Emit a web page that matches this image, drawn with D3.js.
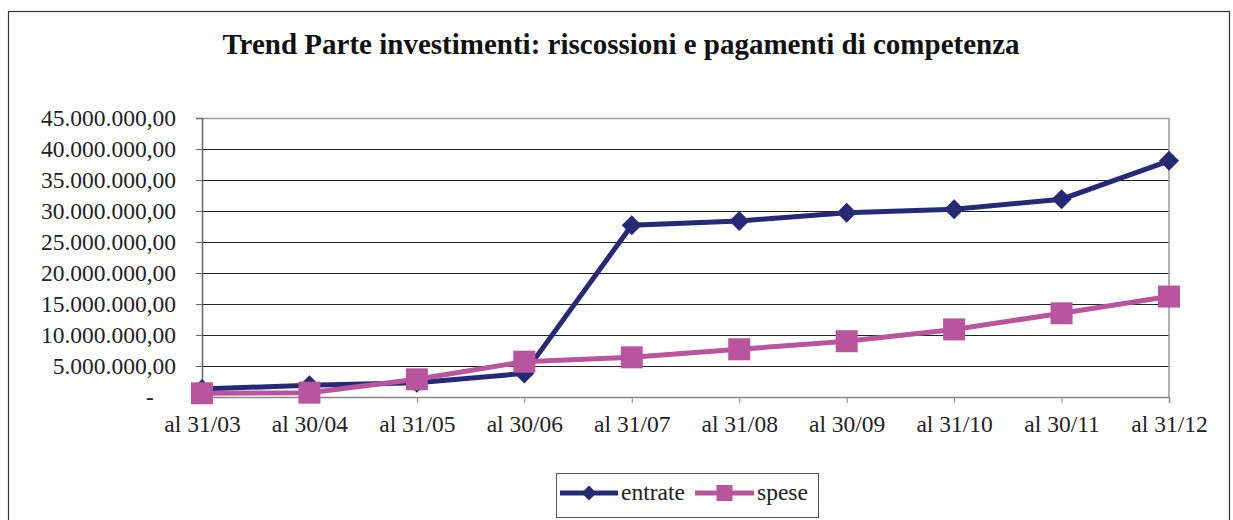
<!DOCTYPE html>
<html>
<head>
<meta charset="utf-8">
<script src="https://cdn.jsdelivr.net/npm/d3@7"></script>
<style>
  html, body { margin: 0; padding: 0; background: #fff; }
  svg { display: block; }
  svg text { font-family: "Liberation Serif", "Times New Roman", serif !important; }
</style>
</head>
<body>
<svg id="chart" width="1233" height="520"></svg>
<script>
const categories = ["al 31/03", "al 30/04", "al 31/05", "al 30/06", "al 31/07", "al 31/08", "al 30/09", "al 31/10", "al 30/11", "al 31/12"];
const entrate = [1300000, 1900000, 2300000, 3800000, 27700000, 28400000, 29700000, 30300000, 31900000, 38100000];
const spese = [600000, 700000, 2850000, 5700000, 6400000, 7700000, 9000000, 10900000, 13500000, 16200000];
const yTicks = [0, 5000000, 10000000, 15000000, 20000000, 25000000, 30000000, 35000000, 40000000, 45000000];
const seriesNames = ["entrate", "spese"];
const titleText = "Trend Parte investimenti: riscossioni e pagamenti di competenza";

const svg = d3.select("#chart");
const pLeft = 202, pRight = 1169, pTop = 118, pBottom = 397;
const colors = { entrate: "#262a76", spese: "#b9559e" };
const FS = 23.5;

// outer frame
svg.append("rect").attr("x", 8.5).attr("y", 11.5).attr("width", 1221).attr("height", 520)
  .attr("fill", "none").attr("stroke", "#333").attr("stroke-width", 1.2);

// title
svg.append("text").attr("x", 621).attr("y", 54).attr("text-anchor", "middle")
  .attr("font-size", 29).attr("font-weight", "bold").attr("fill", "#111").text(titleText);

const x = d3.scalePoint().domain(categories).range([pLeft, pRight]);
const y = d3.scaleLinear().domain([0, 45000000]).range([pBottom, pTop]);

// gridlines
svg.append("g").selectAll("line").data(yTicks.filter(d => d > 0 && d < 45000000)).join("line")
  .attr("x1", pLeft).attr("x2", pRight).attr("y1", d => Math.round(y(d)) + 0.5).attr("y2", d => Math.round(y(d)) + 0.5)
  .attr("stroke", "#222").attr("stroke-width", 1);
// top & right borders of plot area
svg.append("line").attr("x1", pLeft).attr("x2", pRight).attr("y1", pTop + 0.5).attr("y2", pTop + 0.5)
  .attr("stroke", "#999").attr("stroke-width", 1.5);
svg.append("line").attr("x1", pRight).attr("x2", pRight).attr("y1", pTop).attr("y2", pBottom)
  .attr("stroke", "#999").attr("stroke-width", 1.5);

// y axis
const fmt = v => v === 0 ? "-" : d3.format(",.2f")(v).replace(/,/g, "#").replace(".", ",").replace(/#/g, ".");
const yAxis = d3.axisLeft(y).tickValues(yTicks).tickSize(6).tickPadding(20).tickFormat(fmt);
const gy = svg.append("g").attr("transform", `translate(${pLeft},0)`).call(yAxis);
gy.attr("font-family", null).attr("font-size", null);
gy.select(".domain").attr("stroke", "#666").attr("stroke-width", 1.5);
gy.selectAll(".tick line").attr("stroke", "#666");
gy.selectAll(".tick text").attr("font-size", FS).attr("fill", "#222");
gy.selectAll(".tick text").filter(d => d === 0).attr("text-anchor", "middle").attr("x", -52);

// x axis
const xAxis = d3.axisBottom(x).tickSize(6).tickPadding(12);
const gx = svg.append("g").attr("transform", `translate(0,${pBottom})`).call(xAxis);
gx.attr("font-family", null).attr("font-size", null);
gx.select(".domain").attr("stroke", "#888").attr("stroke-width", 1.5);
gx.selectAll(".tick line").attr("stroke", "#888");
gx.selectAll(".tick text").attr("font-size", FS).attr("fill", "#222");

// lines
const line = d3.line().x((d, i) => x(categories[i])).y(d => y(d));
svg.append("path").datum(entrate).attr("d", line).attr("fill", "none")
  .attr("stroke", colors.entrate).attr("stroke-width", 5);
svg.append("path").datum(spese).attr("d", line).attr("fill", "none")
  .attr("stroke", colors.spese).attr("stroke-width", 5);

svg.append("g").selectAll("path").data(entrate).join("path")
  .attr("d", d3.symbol().type(d3.symbolSquare).size(200))
  .attr("transform", (d, i) => `translate(${x(categories[i])},${y(d)}) rotate(45)`)
  .attr("fill", colors.entrate);
svg.append("g").selectAll("rect").data(spese).join("rect")
  .attr("x", (d, i) => x(categories[i]) - 11).attr("y", d => y(d) - 11)
  .attr("width", 22).attr("height", 22).attr("fill", colors.spese);

// legend
const lg = svg.append("g");
lg.append("rect").attr("x", 556.5).attr("y", 473.5).attr("width", 262).attr("height", 44)
  .attr("fill", "#fff").attr("stroke", "#555").attr("stroke-width", 1);
const legendItems = [
  { name: seriesNames[0], x0: 560, x1: 618, tx: 621 },
  { name: seriesNames[1], x0: 695, x1: 754, tx: 757 }
];
const ly = 493;
legendItems.forEach(it => {
  lg.append("line").attr("x1", it.x0).attr("x2", it.x1).attr("y1", ly).attr("y2", ly)
    .attr("stroke", colors[it.name]).attr("stroke-width", 5);
  const cx = (it.x0 + it.x1) / 2;
  if (it.name === "entrate") {
    lg.append("path").attr("d", d3.symbol().type(d3.symbolSquare).size(110))
      .attr("transform", `translate(${cx},${ly}) rotate(45)`).attr("fill", colors.entrate);
  } else {
    lg.append("rect").attr("x", cx - 8).attr("y", ly - 8).attr("width", 16).attr("height", 16)
      .attr("fill", colors.spese);
  }
  lg.append("text").attr("x", it.tx).attr("y", ly + 7).attr("font-size", FS).attr("fill", "#222").text(it.name);
});
</script>
</body>
</html>
